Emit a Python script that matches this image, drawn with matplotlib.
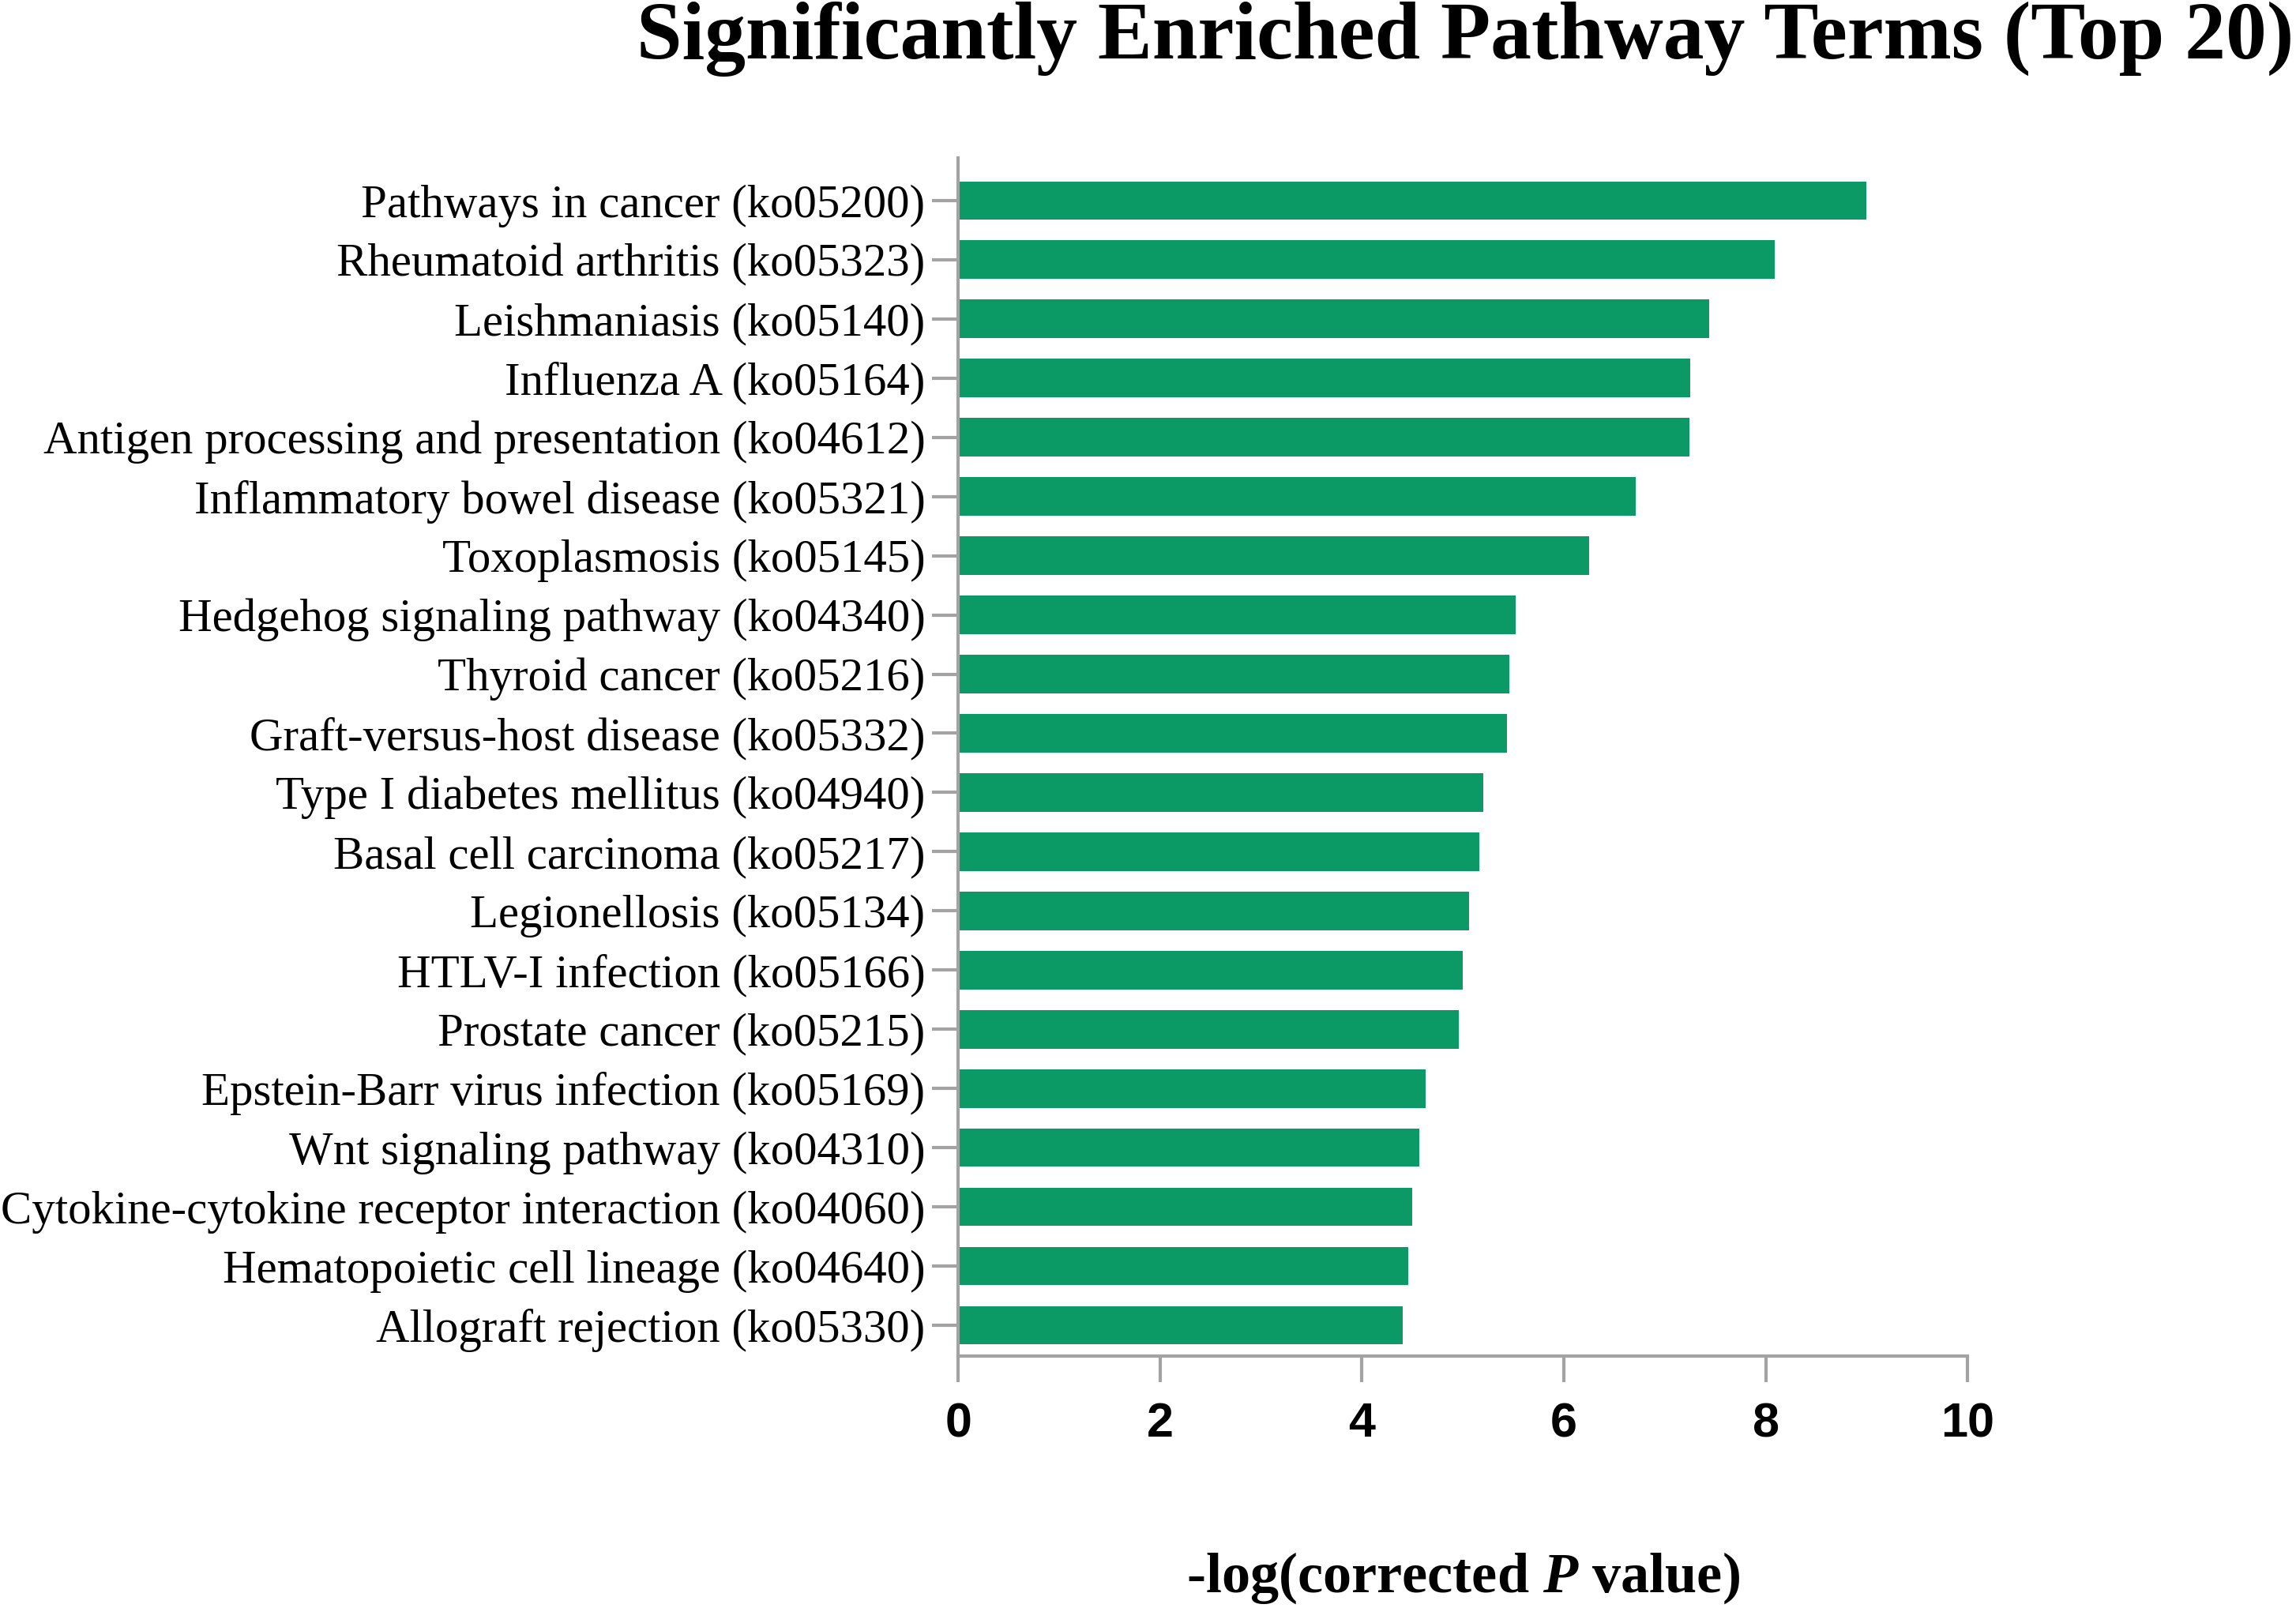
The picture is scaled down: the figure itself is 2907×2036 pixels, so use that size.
import matplotlib.pyplot as plt
import numpy as np

# pathway terms, listed top to bottom as in the figure
terms = [
    'Pathways in cancer (ko05200)',
    'Rheumatoid arthritis (ko05323)',
    'Leishmaniasis (ko05140)',
    'Influenza A (ko05164)',
    'Antigen processing and presentation (ko04612)',
    'Inflammatory bowel disease (ko05321)',
    'Toxoplasmosis (ko05145)',
    'Hedgehog signaling pathway (ko04340)',
    'Thyroid cancer (ko05216)',
    'Graft-versus-host disease (ko05332)',
    'Type I diabetes mellitus (ko04940)',
    'Basal cell carcinoma (ko05217)',
    'Legionellosis (ko05134)',
    'HTLV-I infection (ko05166)',
    'Prostate cancer (ko05215)',
    'Epstein-Barr virus infection (ko05169)',
    'Wnt signaling pathway (ko04310)',
    'Cytokine-cytokine receptor interaction (ko04060)',
    'Hematopoietic cell lineage (ko04640)',
    'Allograft rejection (ko05330)',
]
neg_log_p = [9.00, 8.09, 7.44, 7.25, 7.24, 6.71, 6.25, 5.52, 5.46, 5.44,
             5.20, 5.16, 5.06, 5.00, 4.96, 4.63, 4.57, 4.50, 4.46, 4.40]
x_ticks = [0, 2, 4, 6, 8, 10]

BAR = '#0b9966'
GREY = '#a3a3a3'

plt.rcParams['mathtext.fontset'] = 'custom'
plt.rcParams['mathtext.rm'] = 'Liberation Serif:bold'
plt.rcParams['mathtext.it'] = 'Liberation Serif:italic:bold'


def main():
    fig = plt.figure(figsize=(29.07, 20.36), dpi=100)
    ax = fig.add_axes([0.4173, 0.1567, 0.4397, 0.7451])

    n = len(terms)
    ypos = np.arange(n)[::-1]
    ax.barh(ypos, neg_log_p, height=0.65, color=BAR, left=0)

    ax.set_xlim(0, 10)
    ax.set_ylim(-0.52, n - 1 + 0.72)
    ax.set_xticks(x_ticks)
    ax.set_xticklabels([str(t) for t in x_ticks], family='Liberation Sans',
                       fontweight='bold', fontsize=44)
    ax.set_yticks(ypos)
    ax.set_yticklabels(terms, family='Liberation Serif', fontsize=42.4)

    for s in ['top', 'right']:
        ax.spines[s].set_visible(False)
    for s in ['left', 'bottom']:
        ax.spines[s].set_color(GREY)
        ax.spines[s].set_linewidth(3)
    ax.tick_params(axis='both', colors=GREY, width=3, length=24,
                   labelcolor='black')
    ax.tick_params(axis='y', pad=6)
    ax.tick_params(axis='x', pad=18)

    ax.set_xlabel(r'-log(corrected $\mathit{P}$ value)', family='Liberation Serif',
                  fontweight='bold', fontsize=52, labelpad=94)

    fig.text(0.999, 0.999, 'Significantly Enriched Pathway Terms (Top 20)',
             ha='right', va='top', family='Liberation Serif',
             fontweight='bold', fontsize=74.5)

    fig.savefig('out.png', dpi=100, facecolor='white')


if __name__ == "__main__":
    main()
